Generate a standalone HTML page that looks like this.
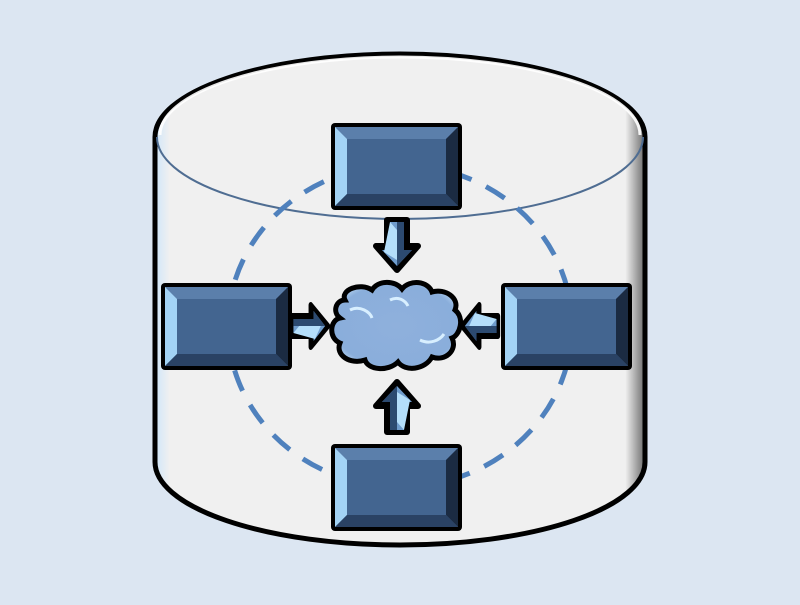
<!DOCTYPE html>
<html><head><meta charset="utf-8"><style>html,body{margin:0;padding:0;background:#dce6f2}</style></head>
<body>
<svg width="800" height="600" viewBox="0 0 800 600" xmlns="http://www.w3.org/2000/svg">
<defs>
<linearGradient id="side" x1="0" x2="1" y1="0" y2="0">
<stop offset="0" stop-color="#cfe6fa"/><stop offset="0.03" stop-color="#f0f0f0"/><stop offset="0.96" stop-color="#f0f0f0"/><stop offset="1" stop-color="#6a6a6a"/>
</linearGradient>
<radialGradient id="cl" cx="0.5" cy="0.5" r="0.6"><stop offset="0" stop-color="#8fb0dc"/><stop offset="0.8" stop-color="#8aaedb"/><stop offset="1" stop-color="#c8e4fa"/></radialGradient>
<g id="box">
<rect x="-2" y="-2" width="131" height="87" rx="4" fill="#000"/>
<rect x="2" y="2" width="123" height="79" fill="#436590"/>
<polygon points="2,2 125,2 113,14 14,14" fill="#5b7fab"/>
<polygon points="2,2 14,14 14,69 2,81" fill="#a3d3f5"/>
<polygon points="125,2 125,81 113,69 113,14" fill="#1b2b42"/>
<polygon points="2,81 125,81 113,69 14,69" fill="#2a4264"/>
</g>
<g id="arr">
<polygon points="-10,0 10,0 10,26 21,26 0,50 -21,26 -10,26" fill="#000" stroke="#000" stroke-width="6" stroke-linejoin="round"/>
<polygon points="-7,2 7,2 7,30 15,30 0,46 -15,30 -7,30" fill="#6f9ccc"/>
<polygon points="0,2 7,2 7,30 15,30 0,46" fill="#2c4a70"/>
<polygon points="-7,2 0,10 0,40 -13,32" fill="#b4defa"/>
</g>
</defs>
<rect width="800" height="600" fill="#dce6f2"/>
<path d="M155,137 L155,462 A245,83 0 0 0 645,462 L645,137 A245,83 0 0 0 155,137 Z" fill="url(#side)" stroke="#000" stroke-width="5"/>
<path d="M160,135 A240,78 0 0 1 640,135" fill="none" stroke="#fff" stroke-width="3" opacity="0.9"/>
<path d="M157,137 A243,82 0 0 0 643,137" fill="none" stroke="#4f6d92" stroke-width="2"/>
<ellipse cx="400" cy="326" rx="172" ry="161" fill="none" stroke="#4f81bd" stroke-width="5" stroke-dasharray="22,16"/>
<use href="#box" x="333" y="125"/>
<use href="#box" x="333" y="446"/>
<use href="#box" x="163" y="285"/>
<use href="#box" x="503" y="285"/>
<path d="M345,300 C340,290 360,282 372,290 C378,280 395,280 402,289 C410,279 428,281 432,292 C445,288 460,298 455,310 C465,318 460,335 452,338 C458,350 445,362 432,357 C425,370 405,372 398,362 C388,372 368,370 365,360 C350,365 335,355 340,343 C328,338 330,320 340,318 C332,312 336,300 345,300 Z" fill="url(#cl)" stroke="#000" stroke-width="5"/>
<path d="M350,310 C360,305 370,312 372,318 M390,300 C398,296 405,300 408,306 M420,340 C430,345 440,340 444,334" fill="none" stroke="#d8efff" stroke-width="3"/>
<use href="#arr" transform="translate(397,220)"/>
<use href="#arr" transform="translate(397,432) rotate(180)"/>
<use href="#arr" transform="translate(292,326) rotate(-90) scale(1,0.72)"/>
<use href="#arr" transform="translate(498,326) rotate(90) scale(1,0.72)"/>
</svg>
</body></html>
